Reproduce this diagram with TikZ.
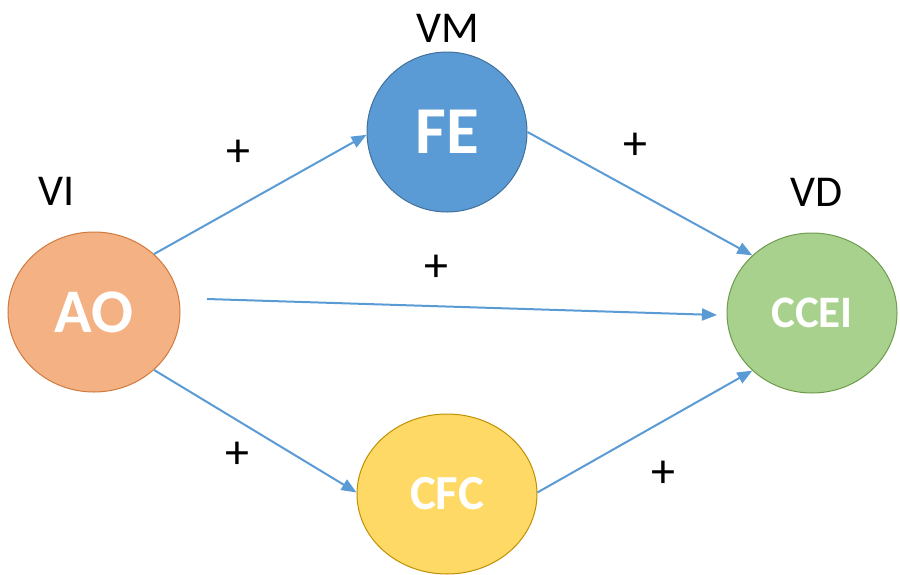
\documentclass[tikz,border=0pt]{standalone}
\usepackage{fontspec}
\setmainfont{Carlito}
\usetikzlibrary{shapes.geometric, arrows.meta}

\definecolor{aofill}{HTML}{F4B183}
\definecolor{aoline}{HTML}{D07A3E}
\definecolor{fefill}{HTML}{5B9BD5}
\definecolor{feline}{HTML}{41719C}
\definecolor{cceifill}{HTML}{A9D18E}
\definecolor{cceiline}{HTML}{6E9B4C}
\definecolor{cfcfill}{HTML}{FFD966}
\definecolor{cfcline}{HTML}{BF9000}
\definecolor{linkblue}{HTML}{5B9BD5}

\newcommand{\sz}[1]{\fontsize{#1}{#1}\selectfont}

\begin{document}
\begin{tikzpicture}[x=1pt, y=-1pt,
  var/.style={ellipse, draw, line width=1pt, inner sep=0pt, text=white,
    minimum width=172pt, minimum height=160pt},
  link/.style={-{Triangle[length=15pt,width=12pt]}, line width=2pt, linkblue},
  tag/.style={font=\sz{44}},
  sign/.style={font=\sz{48}}]
  \useasboundingbox (0,0) rectangle (900,574);

  % Variables
  \node[var, fill=aofill, draw=aoline, font=\bfseries\sz{62}] (ao) at (94,312) {AO};
  \node[var, fill=fefill, draw=feline, minimum width=160pt, font=\bfseries\sz{67}] (fe) at (447,132) {FE};
  \node[var, fill=cceifill, draw=cceiline, minimum width=170pt, font=\bfseries\sz{45}] (ccei) at (812,313) {CCEI};
  \node[var, fill=cfcfill, draw=cfcline, minimum width=180pt, font=\bfseries\sz{49}] (cfc) at (447,494) {CFC};

  % Labels
  \node[tag] (vi) at (57,191) {VI};
  \node[tag] (vm) at (448,28) {VM};
  \node[tag] (vd) at (817,192) {VD};

  % Paths
  \coordinate (direct-start) at (207,299);
  \coordinate (direct-end) at (717,315);
  \draw[link] (ao.44) -- (fe.182);
  \draw[link] (fe.0) -- (ccei.136);
  \draw[link] (direct-start) -- (direct-end);
  \draw[link] (ao.-44) -- (cfc.179);
  \draw[link] (cfc.1) -- (ccei.224);

  % Signs
  \node[sign] (s1) at (238,153) {+};
  \node[sign] (s2) at (635,146) {+};
  \node[sign] (s3) at (436,268) {+};
  \node[sign] (s4) at (237,455) {+};
  \node[sign] (s5) at (663,474) {+};
\end{tikzpicture}
\end{document}
